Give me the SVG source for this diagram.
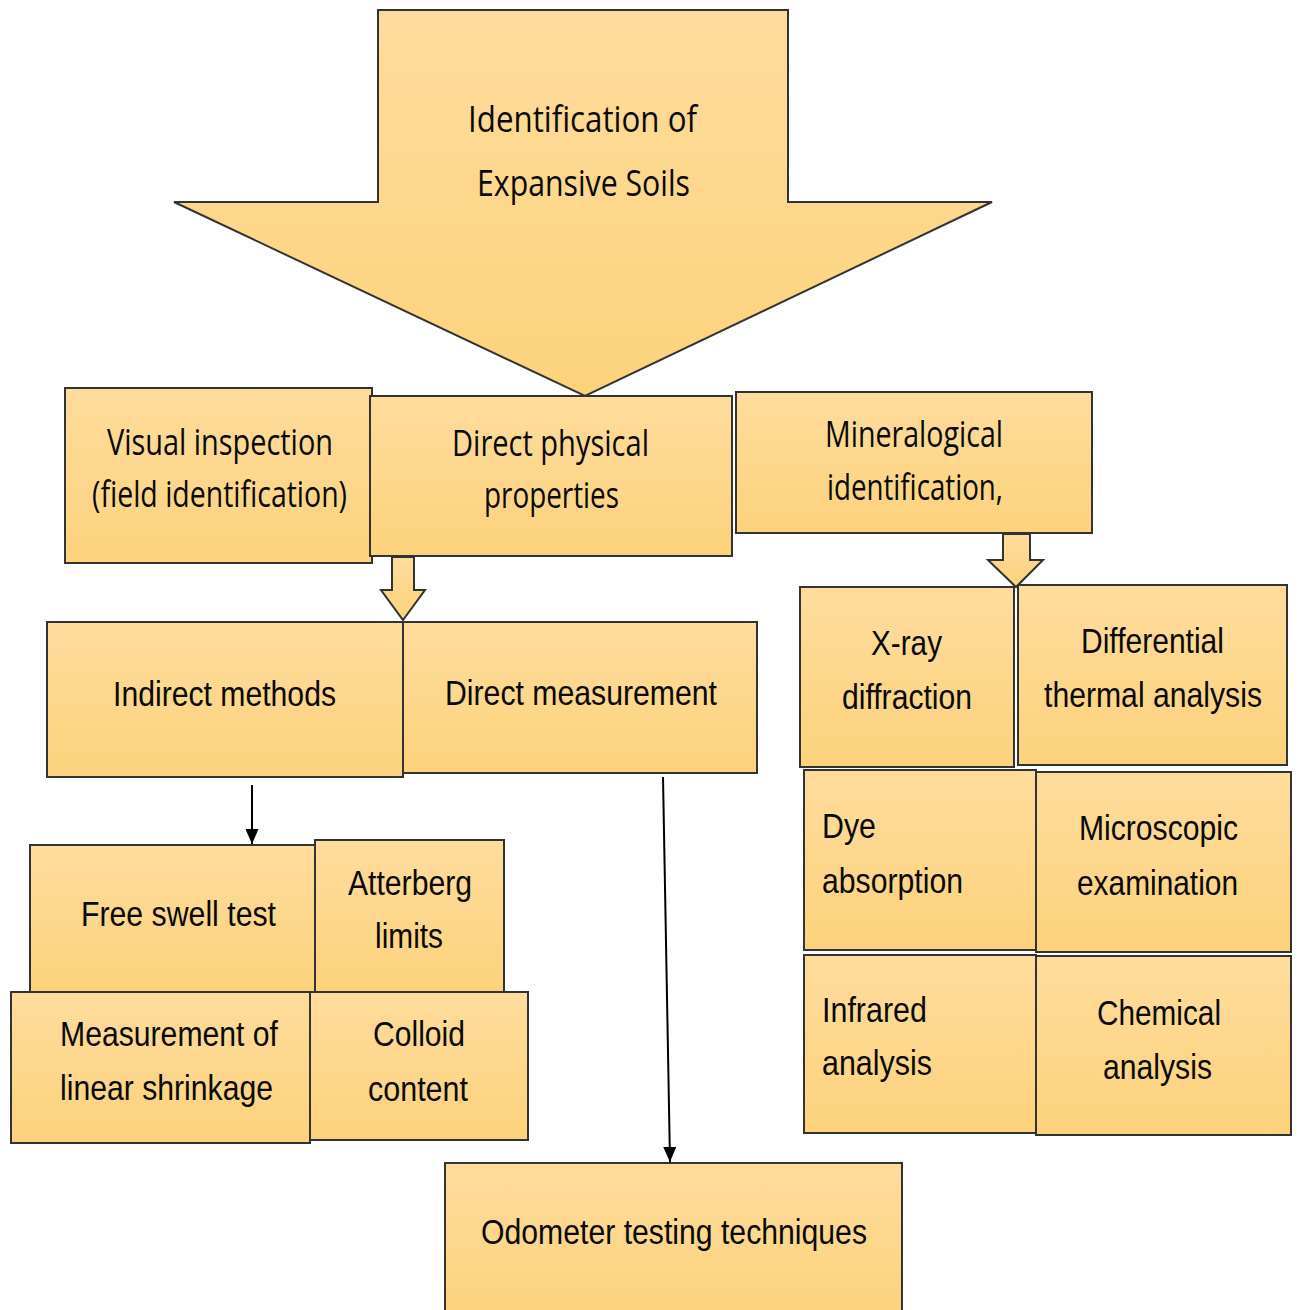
<svg xmlns="http://www.w3.org/2000/svg" width="1299" height="1310" viewBox="0 0 1299 1310">
<defs>
<linearGradient id="g" x1="0" y1="0" x2="0" y2="1">
<stop offset="0" stop-color="#FEDC9C"/>
<stop offset="1" stop-color="#FCD27C"/>
</linearGradient>
<marker id="ah" markerWidth="15" markerHeight="13" refX="15" refY="6.5" orient="auto" markerUnits="userSpaceOnUse" viewBox="0 0 15 13">
<path d="M0,0 L15,6.5 L0,13 Z" fill="#000"/>
</marker>
</defs>
<style>
.b{fill:url(#g);stroke:#333;stroke-width:2}
.t{font-family:"Liberation Sans",Arial,sans-serif;font-size:35px;fill:#0a0a0a}
.c{font-family:"Open Sans","Liberation Sans",sans-serif;font-size:36px;fill:#0a0a0a}
.ln{stroke:#000;stroke-width:2;fill:none}
</style>
<rect width="1299" height="1310" fill="#fff"/>
<g id="main-arrow">
<path class="b" d="M378,10 L788,10 L788,202 L992,202 L585,396 L174,202 L378,202 Z"/>
<text class="c" x="468" y="132" textLength="229" lengthAdjust="spacingAndGlyphs">Identification of</text>
<text class="c" x="477" y="196" textLength="213" lengthAdjust="spacingAndGlyphs">Expansive Soils</text>
</g>
<g id="visual">
<rect class="b" x="65" y="388" width="307" height="175"/>
<text class="c" x="107" y="455" textLength="226" lengthAdjust="spacingAndGlyphs">Visual inspection</text>
<text class="c" x="92" y="507" textLength="255" lengthAdjust="spacingAndGlyphs">(field identification)</text>
</g>
<g id="direct-physical">
<rect class="b" x="370" y="396" width="362" height="160"/>
<text class="c" x="452" y="456" textLength="197" lengthAdjust="spacingAndGlyphs">Direct physical</text>
<text class="c" x="484" y="508" textLength="135" lengthAdjust="spacingAndGlyphs">properties</text>
</g>
<g id="mineralogical">
<rect class="b" x="736" y="392" width="356" height="141"/>
<text class="c" x="825" y="447" textLength="178" lengthAdjust="spacingAndGlyphs">Mineralogical</text>
<text class="c" x="827" y="500" textLength="176" lengthAdjust="spacingAndGlyphs">identification,</text>
</g>
<g id="indirect">
<rect class="b" x="47" y="622" width="356" height="155"/>
<text class="t" x="113" y="706" textLength="223" lengthAdjust="spacingAndGlyphs">Indirect methods</text>
</g>
<g id="direct-measurement">
<rect class="b" x="403" y="622" width="354" height="151"/>
<text class="t" x="445" y="705" textLength="272" lengthAdjust="spacingAndGlyphs">Direct measurement</text>
</g>
<g id="free-swell">
<rect class="b" x="30" y="845" width="285" height="148"/>
<text class="t" x="81" y="926" textLength="195" lengthAdjust="spacingAndGlyphs">Free swell test</text>
</g>
<g id="atterberg">
<rect class="b" x="315" y="840" width="189" height="153"/>
<text class="t" x="348" y="895" textLength="124" lengthAdjust="spacingAndGlyphs">Atterberg</text>
<text class="t" x="375" y="948" textLength="68" lengthAdjust="spacingAndGlyphs">limits</text>
</g>
<g id="linear-shrinkage">
<rect class="b" x="11" y="992" width="299" height="151"/>
<text class="t" x="60" y="1046" textLength="218" lengthAdjust="spacingAndGlyphs">Measurement of</text>
<text class="t" x="60" y="1100" textLength="213" lengthAdjust="spacingAndGlyphs">linear shrinkage</text>
</g>
<g id="colloid">
<rect class="b" x="310" y="992" width="218" height="148"/>
<text class="t" x="373" y="1046" textLength="92" lengthAdjust="spacingAndGlyphs">Colloid</text>
<text class="t" x="368" y="1101" textLength="100" lengthAdjust="spacingAndGlyphs">content</text>
</g>
<g id="odometer">
<rect class="b" x="445" y="1163" width="457" height="152"/>
<text class="t" x="481" y="1244" textLength="386" lengthAdjust="spacingAndGlyphs">Odometer testing techniques</text>
</g>
<g id="xray">
<rect class="b" x="800" y="587" width="214" height="180"/>
<text class="t" x="871" y="655" textLength="71" lengthAdjust="spacingAndGlyphs">X-ray</text>
<text class="t" x="842" y="709" textLength="130" lengthAdjust="spacingAndGlyphs">diffraction</text>
</g>
<g id="dta">
<rect class="b" x="1018" y="585" width="269" height="180"/>
<text class="t" x="1081" y="653" textLength="143" lengthAdjust="spacingAndGlyphs">Differential</text>
<text class="t" x="1044" y="707" textLength="218" lengthAdjust="spacingAndGlyphs">thermal analysis</text>
</g>
<g id="dye">
<rect class="b" x="804" y="770" width="232" height="180"/>
<text class="t" x="822" y="838" textLength="54" lengthAdjust="spacingAndGlyphs">Dye</text>
<text class="t" x="822" y="893" textLength="141" lengthAdjust="spacingAndGlyphs">absorption</text>
</g>
<g id="microscopic">
<rect class="b" x="1036" y="772" width="255" height="180"/>
<text class="t" x="1079" y="840" textLength="159" lengthAdjust="spacingAndGlyphs">Microscopic</text>
<text class="t" x="1077" y="895" textLength="161" lengthAdjust="spacingAndGlyphs">examination</text>
</g>
<g id="infrared">
<rect class="b" x="804" y="955" width="232" height="178"/>
<text class="t" x="822" y="1022" textLength="105" lengthAdjust="spacingAndGlyphs">Infrared</text>
<text class="t" x="822" y="1075" textLength="110" lengthAdjust="spacingAndGlyphs">analysis</text>
</g>
<g id="chemical">
<rect class="b" x="1036" y="956" width="255" height="179"/>
<text class="t" x="1097" y="1025" textLength="124" lengthAdjust="spacingAndGlyphs">Chemical</text>
<text class="t" x="1103" y="1079" textLength="109" lengthAdjust="spacingAndGlyphs">analysis</text>
</g>
<g id="connectors">
<path class="b" d="M392,557 L414,557 L414,590 L425,590 L403,620 L381,590 L392,590 Z"/>
<path class="b" d="M1003,534 L1030,534 L1030,560 L1043,560 L1016,587 L988,560 L1003,560 Z"/>
<line class="ln" x1="252" y1="785" x2="252" y2="844" marker-end="url(#ah)"/>
<line class="ln" x1="663" y1="777" x2="670" y2="1162" marker-end="url(#ah)"/>
</g>
</svg>
